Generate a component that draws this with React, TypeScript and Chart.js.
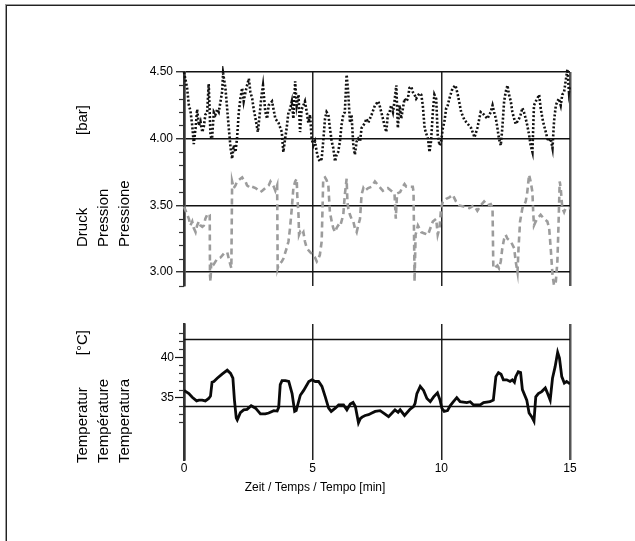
import React, { useEffect, useRef } from 'react';
import { Chart, registerables } from 'chart.js';

Chart.register(...registerables);

// ---------- data ----------
const timeTicks = [0, 5, 10, 15];

const pressureTicks = [3.0, 3.5, 4.0, 4.5];
const pressureMinorTicks = [2.9, 3.1, 3.2, 3.3, 3.4, 3.6, 3.7, 3.8, 3.9, 4.1, 4.2, 4.3, 4.4];
const temperatureTicks = [35, 40];
const temperatureMinorTicks = [32, 33, 34, 36, 37, 38, 39, 41, 42, 43];
const temperatureLimits = [42.2, 33.9];

const blackTime = [
  0.0, 0.12, 0.19, 0.25, 0.32, 0.38, 0.45, 0.51, 0.58, 0.64, 0.71, 0.77, 0.83, 0.9, 0.96, 1.03, 1.09, 1.16, 1.22, 1.29,
  1.35, 1.42, 1.48, 1.52, 1.61, 1.74, 1.81, 1.87, 1.93, 2.0, 2.06, 2.13, 2.19, 2.26, 2.32, 2.39, 2.45, 2.52, 2.58, 2.65,
  2.71, 2.78, 2.87, 2.94, 3.01, 3.07, 3.16, 3.23, 3.29, 3.42, 3.55, 3.67, 3.8, 3.86, 3.93, 3.99, 4.06, 4.12, 4.19, 4.25,
  4.32, 4.38, 4.45, 4.51, 4.57, 4.64, 4.7, 4.77, 4.83, 4.9, 4.96, 5.03, 5.09, 5.16, 5.22, 5.28, 5.35, 5.41, 5.48, 5.54,
  5.61, 5.67, 5.74, 5.8, 5.87, 5.93, 5.99, 6.06, 6.12, 6.19, 6.25, 6.32, 6.38, 6.45, 6.51, 6.58, 6.64, 6.71, 6.77, 6.84,
  6.9, 6.97, 7.03, 7.09, 7.16, 7.29, 7.42, 7.55, 7.6, 7.73, 7.79, 7.86, 7.92, 7.99, 8.05, 8.12, 8.18, 8.25, 8.31, 8.38,
  8.44, 8.51, 8.57, 8.64, 8.7, 8.76, 8.83, 8.89, 8.96, 9.02, 9.15, 9.22, 9.28, 9.35, 9.41, 9.48, 9.54, 9.6, 9.67, 9.73,
  9.8, 9.86, 9.93, 9.99, 10.06, 10.12, 10.19, 10.25, 10.31, 10.44, 10.55, 10.64, 10.77, 10.9, 11.03, 11.16, 11.29, 11.4,
  11.53, 11.66, 11.79, 11.92, 11.99, 12.05, 12.12, 12.18, 12.24, 12.31, 12.37, 12.44, 12.5, 12.57, 12.63, 12.7, 12.76,
  12.83, 12.89, 12.96, 13.02, 13.08, 13.15, 13.21, 13.28, 13.34, 13.41, 13.47, 13.54, 13.6, 13.67, 13.73, 13.8, 13.86,
  13.93, 13.99, 14.06, 14.12, 14.19, 14.25, 14.32, 14.38, 14.45, 14.51, 14.57, 14.64, 14.7, 14.77, 14.83, 14.9, 14.96, 15.0,
];
const blackPressure = [
  4.5, 4.38, 4.25, 4.21, 4.1, 3.96, 4.08, 4.22, 4.1, 4.13, 4.05, 4.09, 4.18, 4.2, 4.41, 4.02, 4.0, 4.2, 4.18, 4.22,
  4.2, 4.28, 4.35, 4.49, 4.38, 4.08, 3.93, 3.85, 3.95, 3.9, 4.0, 4.2, 4.3, 4.38, 4.28, 4.35, 4.4, 4.45, 4.35, 4.3,
  4.22, 4.15, 4.05, 4.18, 4.32, 4.4, 4.2, 4.15, 4.25, 4.28, 4.15, 4.12, 4.05, 3.9, 4.0, 4.08, 4.2, 4.22, 4.28, 4.15,
  4.43, 4.25, 4.33, 4.05, 4.22, 4.25, 4.28, 4.2, 4.12, 4.18, 4.0, 3.95, 3.98, 3.9, 3.85, 3.83, 3.85, 3.98, 4.15, 4.2,
  4.18, 4.08, 3.98, 3.93, 3.83, 3.88, 3.9, 3.98, 4.1, 4.18, 4.2, 4.48, 4.35, 4.12, 4.18, 3.95, 3.88, 3.98, 4.0, 3.98,
  4.08, 4.1, 4.12, 4.15, 4.12, 4.18, 4.25, 4.28, 4.25, 4.15, 4.1, 4.05, 4.18, 4.2, 4.25, 4.2, 4.28, 4.4, 4.08, 4.25,
  4.15, 4.23, 4.3, 4.28, 4.3, 4.38, 4.39, 4.35, 4.33, 4.3, 4.34, 4.33, 4.25, 4.08, 4.04, 4.0, 3.9, 3.98, 4.2, 4.33,
  4.3, 4.03, 3.95, 3.98, 4.08, 4.13, 4.23, 4.25, 4.3, 4.38, 4.4, 4.33, 4.2, 4.14, 4.11, 4.08, 4.01, 4.08,
  4.2, 4.18, 4.15, 4.2, 4.25, 4.2, 4.15, 4.08, 4.0, 3.95, 4.08, 4.28, 4.35, 4.4, 4.33, 4.28, 4.2,
  4.15, 4.11, 4.13, 4.15, 4.18, 4.23, 4.2, 4.15, 4.1, 4.03, 3.95, 3.9, 4.25, 4.28, 4.3, 4.33, 4.23,
  4.15, 4.1, 4.05, 4.0, 3.98, 4.0, 3.93, 4.13, 4.25, 4.28, 4.3, 4.25, 4.33, 4.35, 4.43, 4.52, 4.35, 4.4,
];

const grayTime = [
  0.0, 0.19, 0.25, 0.32, 0.38, 0.45, 0.51, 0.58, 0.64, 0.71, 0.77, 0.83, 0.9, 0.96, 1.0, 1.01, 1.03, 1.06, 1.09, 1.16,
  1.29, 1.42, 1.55, 1.68, 1.74, 1.81, 1.84, 1.87, 1.93, 2.0, 2.06, 2.19, 2.26, 2.32, 2.39, 2.45, 2.52, 2.58, 2.65, 2.78,
  2.91, 2.97, 3.04, 3.16, 3.29, 3.36, 3.49, 3.55, 3.62, 3.64, 3.67, 3.8, 3.86, 3.99, 4.06, 4.12, 4.19, 4.25, 4.32, 4.38,
  4.4, 4.45, 4.47, 4.51, 4.57, 4.64, 4.7, 4.77, 4.9, 4.96, 5.03, 5.09, 5.16, 5.22, 5.28, 5.35, 5.39, 5.41, 5.48, 5.54,
  5.61, 5.63, 5.67, 5.74, 5.8, 5.87, 5.93, 5.99, 6.06, 6.12, 6.19, 6.25, 6.32, 6.35, 6.38, 6.45, 6.51, 6.58, 6.64, 6.71,
  6.77, 6.84, 6.9, 6.97, 7.03, 7.16, 7.29, 7.42, 7.55, 7.73, 7.92, 8.05, 8.18, 8.23, 8.28, 8.4, 8.5, 8.57, 8.64, 8.89,
  8.92, 8.96, 9.0, 9.09, 9.22, 9.35, 9.48, 9.67, 9.8, 9.86, 9.93, 9.99, 10.06, 10.19, 10.31, 10.44, 10.57, 10.7, 10.9,
  11.09, 11.27, 11.4, 11.53, 11.66, 11.79, 11.92, 11.99, 12.02, 12.05, 12.18, 12.24, 12.31, 12.37, 12.44, 12.5, 12.57,
  12.7, 12.83, 12.89, 12.96, 13.0, 13.06, 13.15, 13.21, 13.28, 13.34, 13.41, 13.47, 13.54, 13.57, 13.6, 13.67, 13.73,
  13.86, 13.99, 14.12, 14.19, 14.25, 14.32, 14.38, 14.45, 14.51, 14.55, 14.6, 14.64, 14.7, 14.77, 14.83, 14.9, 15.0,
];
const grayPressure = [
  3.49, 3.4, 3.35, 3.38, 3.33, 3.3, 3.35, 3.38, 3.35, 3.34, 3.35, 3.4, 3.43, 3.44, 3.43, 2.98, 2.93, 3.08, 3.08, 3.06,
  3.1, 3.11, 3.14, 3.15, 3.1, 3.05, 3.03, 3.68, 3.63, 3.65, 3.68, 3.7, 3.71, 3.69, 3.68, 3.65, 3.64, 3.63, 3.64, 3.63,
  3.61, 3.6, 3.61, 3.63, 3.65, 3.68, 3.64, 3.61, 3.65, 3.03, 3.05, 3.08, 3.1, 3.18, 3.23, 3.33, 3.48, 3.63, 3.68, 3.7,
  3.58, 3.43, 3.28, 3.3, 3.28, 3.3, 3.23, 3.18, 3.15, 3.14, 3.13, 3.11, 3.08, 3.1, 3.13, 3.23, 3.53, 3.7, 3.71, 3.69,
  3.65, 3.58, 3.45, 3.38, 3.33, 3.3, 3.33, 3.35, 3.34, 3.38, 3.43, 3.58, 3.7, 3.53, 3.48, 3.43, 3.4, 3.38, 3.33, 3.3,
  3.35, 3.4, 3.58, 3.63, 3.61, 3.63, 3.64, 3.68, 3.65, 3.61, 3.63, 3.61, 3.59, 3.4, 3.59, 3.6, 3.64, 3.66, 3.64, 3.64,
  3.6, 2.93, 3.28, 3.35, 3.3, 3.29, 3.28, 3.38, 3.4, 3.28, 3.33, 3.48, 3.53, 3.55, 3.56, 3.58, 3.53, 3.5, 3.49,
  3.48, 3.5, 3.46, 3.5, 3.53, 3.5, 3.51, 3.48, 3.03, 3.03, 3.05, 3.03, 3.08, 3.18, 3.25, 3.28, 3.25,
  3.23, 3.18, 3.08, 3.0, 3.18, 3.38, 3.48, 3.5, 3.53, 3.6, 3.73, 3.68, 3.6, 3.45, 3.35, 3.38, 3.4,
  3.43, 3.4, 3.38, 3.33, 3.18, 2.98, 2.9, 2.93, 3.08, 3.33, 3.68, 3.63, 3.48, 3.45, 3.48, 3.48, 3.48,
];

const tempTime = [
  0.0, 0.19, 0.32, 0.49, 0.58, 0.71, 0.83, 0.96, 1.03, 1.09, 1.16, 1.29, 1.48, 1.68, 1.81, 1.9, 1.96, 2.03, 2.07, 2.19,
  2.32, 2.45, 2.61, 2.78, 2.97, 3.16, 3.29, 3.49, 3.62, 3.68, 3.74, 3.81, 3.94, 4.07, 4.2, 4.3, 4.36, 4.52, 4.65, 4.85,
  4.97, 5.1, 5.23, 5.36, 5.49, 5.62, 5.72, 5.88, 6.01, 6.2, 6.33, 6.46, 6.57, 6.66, 6.78, 6.85, 6.92, 7.04, 7.17, 7.3,
  7.43, 7.62, 7.8, 7.95, 8.14, 8.2, 8.32, 8.4, 8.57, 8.79, 8.92, 8.98, 9.05, 9.18, 9.31, 9.44, 9.57, 9.7, 9.85, 9.95,
  10.02, 10.11, 10.24, 10.34, 10.47, 10.6, 10.73, 10.99, 11.12, 11.25, 11.51, 11.64, 11.89, 12.02, 12.12, 12.22, 12.32,
  12.41, 12.54, 12.67, 12.76, 12.84, 12.89, 12.99, 13.08, 13.15, 13.32, 13.41, 13.51, 13.6, 13.67, 13.77, 13.9, 14.04,
  14.1, 14.23, 14.32, 14.42, 14.52, 14.59, 14.68, 14.78, 14.87, 15.0,
];
const temperature = [
  35.9, 35.5, 35.05, 34.6, 34.7, 34.7, 34.6, 34.9, 35.2, 36.9, 37.0, 37.4, 37.9, 38.4, 38.0, 37.4, 34.7, 32.5, 32.25, 33.15,
  33.5, 33.55, 34.0, 33.7, 33.0, 33.0, 33.1, 33.4, 33.35, 33.8, 36.6, 37.1, 37.1, 37.0, 35.5, 33.3, 33.4, 35.3, 35.9, 37.0,
  37.2, 37.0, 37.0, 36.4, 35.1, 33.7, 33.3, 33.7, 34.1, 34.1, 33.5, 34.2, 34.4, 33.9, 31.9, 32.4, 32.6, 32.8, 32.9, 33.1,
  33.3, 33.4, 33.0, 32.65, 33.3, 33.5, 33.2, 33.5, 32.8, 33.6, 33.9, 34.3, 35.5, 36.4, 35.9, 34.9, 34.5, 35.1, 35.6, 34.7,
  33.7, 33.3, 33.4, 34.0, 34.5, 35.0, 34.5, 34.4, 34.5, 34.1, 34.1, 34.4, 34.5, 34.7, 37.6, 38.1, 37.9,
  37.2, 37.2, 37.0, 37.2, 36.9, 37.6, 38.2, 38.1, 36.0, 34.7, 33.1, 32.65, 32.1, 35.1, 35.5, 35.75, 36.2,
  35.75, 34.7, 37.4, 38.8, 40.6, 39.9, 37.6, 36.8, 37.0, 36.7,
];

const pressureTitle = ['Druck', 'Pression', 'Pressione'];
const pressureUnit = '[bar]';
const temperatureTitle = ['Temperatur', 'Température', 'Temperatura'];
const temperatureUnit = '[°C]';
const timeTitle = 'Zeit / Temps / Tempo [min]';

// ---------- helpers ----------
const W = 635;
const H = 541;
const FONT = '"Liberation Sans", Arial, sans-serif';
const INK = '#000';

const pts = (xs: number[], ys: number[]) => xs.map((x, i) => ({ x, y: ys[i] }));
const setTicks = (vals: number[]) => (s: any) => {
  s.ticks = vals.map((v) => ({ value: v }));
};

const xGridColor = (ctx: any) => (ctx.tick && (ctx.tick.value === 0 || ctx.tick.value === 15) ? '#555' : '#222');
const xGridWidth = (ctx: any) => (ctx.tick && (ctx.tick.value === 0 || ctx.tick.value === 15) ? 2.5 : 1.5);

function minorTicksPlugin(id: string, vals: number[]) {
  return {
    id,
    afterDraw(chart: any) {
      const y = chart.scales.y;
      const ctx = chart.ctx;
      ctx.save();
      ctx.strokeStyle = '#333';
      ctx.lineWidth = 1.2;
      vals.forEach((v) => {
        const py = Math.round(y.getPixelForValue(v)) + 0.5;
        ctx.beginPath();
        ctx.moveTo(y.right - 5, py);
        ctx.lineTo(y.right, py);
        ctx.stroke();
      });
      ctx.restore();
    },
  };
}

function yTitlePlugin(id: string, lines: string[], unit: string, startY: number, unitEndY: number) {
  return {
    id,
    afterDraw(chart: any) {
      const ctx = chart.ctx;
      ctx.save();
      ctx.fillStyle = INK;
      ctx.font = `15px ${FONT}`;
      ctx.textBaseline = 'alphabetic';
      const xs = [87, 108, 129];
      lines.forEach((t, i) => {
        ctx.save();
        ctx.translate(xs[i], startY);
        ctx.rotate(-Math.PI / 2);
        ctx.textAlign = 'left';
        ctx.fillText(t, 0, 0);
        ctx.restore();
      });
      ctx.save();
      ctx.translate(xs[0], unitEndY);
      ctx.rotate(-Math.PI / 2);
      ctx.textAlign = 'right';
      ctx.fillText(unit, 0, 0);
      ctx.restore();
      ctx.restore();
    },
  };
}

const xTitlePlugin = {
  id: 'xTitle',
  afterDraw(chart: any) {
    const ctx = chart.ctx;
    ctx.save();
    ctx.fillStyle = INK;
    ctx.font = `12px ${FONT}`;
    ctx.textAlign = 'center';
    ctx.textBaseline = 'middle';
    ctx.fillText(timeTitle, 315, 488);
    ctx.restore();
  },
};

export default function App() {
  const pRef = useRef<HTMLCanvasElement>(null);
  const tRef = useRef<HTMLCanvasElement>(null);

  useEffect(() => {
    const tickFont = { family: FONT, size: 12 };
    const pressure = new Chart(pRef.current as HTMLCanvasElement, {
      type: 'line',
      data: {
        datasets: [
          {
            data: pts(blackTime, blackPressure),
            borderColor: '#111',
            borderWidth: 2.6,
            borderDash: [2, 2],
            pointRadius: 0,
            tension: 0,
            clip: 6,
          } as any,
          {
            data: pts(grayTime, grayPressure),
            borderColor: '#9c9c9c',
            borderWidth: 2.6,
            borderDash: [6, 4],
            pointRadius: 0,
            tension: 0,
            clip: 6,
          } as any,
        ],
      },
      options: {
        animation: false,
        responsive: false,
        events: [],
        layout: { padding: { left: 0, top: 72, right: W - 570, bottom: H - 285.5 } },
        plugins: { legend: { display: false }, tooltip: { enabled: false } },
        scales: {
          x: {
            type: 'linear',
            min: 0,
            max: 15,
            afterBuildTicks: setTicks(timeTicks),
            afterFit: (s: any) => {
              s.height = 0;
            },
            ticks: { display: false },
            grid: { drawTicks: false, color: xGridColor, lineWidth: xGridWidth },
            border: { display: false },
          },
          y: {
            type: 'linear',
            min: 2.9,
            max: 4.5,
            afterBuildTicks: setTicks(pressureTicks),
            afterFit: (s: any) => {
              s.width = 184;
            },
            ticks: {
              font: tickFont,
              color: INK,
              padding: 3,
              callback: (v: any) => Number(v).toFixed(2),
            },
            grid: { color: '#111', lineWidth: 1.5, tickLength: 8, tickColor: '#111', tickWidth: 1.2 },
            border: { display: true, color: '#333', width: 2.5 },
          },
        },
      } as any,
      plugins: [minorTicksPlugin('pMinor', pressureMinorTicks), yTitlePlugin('pTitle', pressureTitle, pressureUnit, 247, 105)],
    });

    const temp = new Chart(tRef.current as HTMLCanvasElement, {
      type: 'line',
      data: {
        datasets: [
          {
            data: pts(tempTime, temperature),
            borderColor: '#0a0a0a',
            borderWidth: 2.8,
            pointRadius: 0,
            tension: 0,
            order: 0,
          } as any,
          ...temperatureLimits.map((v) => ({
            data: pts([0, 15], [v, v]),
            borderColor: '#111',
            borderWidth: 1.5,
            pointRadius: 0,
            order: 1,
          })),
        ],
      },
      options: {
        animation: false,
        responsive: false,
        events: [],
        layout: { padding: { left: 0, top: 324, right: W - 570, bottom: H - 460 - 20 } },
        plugins: { legend: { display: false }, tooltip: { enabled: false } },
        scales: {
          x: {
            type: 'linear',
            min: 0,
            max: 15,
            afterBuildTicks: setTicks(timeTicks),
            afterFit: (s: any) => {
              s.height = 20;
            },
            ticks: { font: tickFont, color: INK, padding: 1, maxRotation: 0 },
            grid: { drawTicks: false, color: xGridColor, lineWidth: xGridWidth },
            border: { display: false },
          },
          y: {
            type: 'linear',
            min: 27.3,
            max: 44.1,
            afterBuildTicks: setTicks(temperatureTicks),
            afterFit: (s: any) => {
              s.width = 184;
            },
            ticks: { font: tickFont, color: INK, padding: 1 },
            grid: { drawOnChartArea: false, tickLength: 9, tickColor: '#111', tickWidth: 1.2 },
            border: { display: true, color: '#333', width: 2.5 },
          },
        },
      } as any,
      plugins: [
        minorTicksPlugin('tMinor', temperatureMinorTicks),
        yTitlePlugin('tTitle', temperatureTitle, temperatureUnit, 463, 330),
        xTitlePlugin,
      ],
    });

    return () => {
      pressure.destroy();
      temp.destroy();
    };
  }, []);

  const canvasStyle: React.CSSProperties = { position: 'absolute', left: 0, top: 0 };
  return (
    <div style={{ position: 'fixed', left: 0, top: 0, width: W, height: H, overflow: 'hidden', background: '#fff' }}>
      <div
        style={{
          position: 'absolute',
          left: 5,
          top: 4,
          width: W + 20,
          height: H + 20,
          borderLeft: '1px solid #9a9a9a',
          borderTop: '1px solid #9a9a9a',
        }}
      />
      <div
        style={{
          position: 'absolute',
          left: 6,
          top: 5,
          width: W + 20,
          height: H + 20,
          borderLeft: '1.5px solid #222',
          borderTop: '1.5px solid #222',
        }}
      />
      <canvas ref={pRef} width={W} height={H} style={canvasStyle} />
      <canvas ref={tRef} width={W} height={H} style={canvasStyle} />
    </div>
  );
}
